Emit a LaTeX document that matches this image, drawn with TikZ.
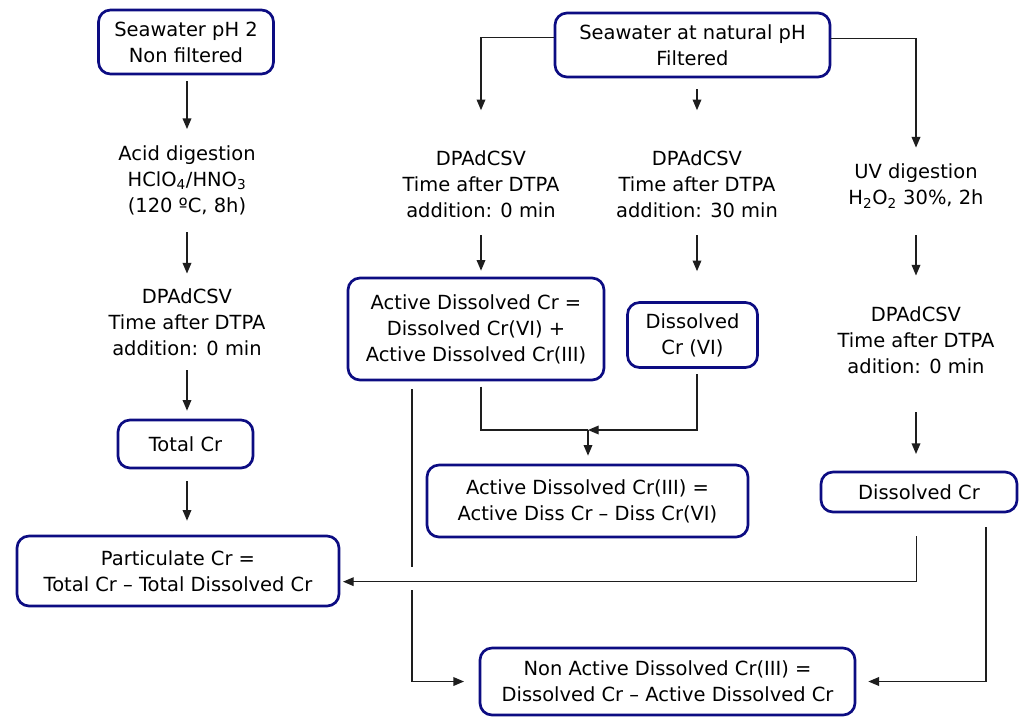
\documentclass[tikz,border=0pt]{standalone}
\usepackage{fontspec}
\setmainfont{DejaVu Sans}
\usetikzlibrary{arrows.meta,calc}
\definecolor{navy}{RGB}{12,12,130}
\definecolor{ink}{RGB}{30,30,30}
\tikzset{
  every node/.style={font=\fontsize{14.6pt}{19.5pt}\selectfont, align=center, inner sep=0pt},
  rbox/.style={draw=navy, line width=2pt, rounded corners=9pt},
  txt/.style={},
  conn/.style={draw=ink, line width=1pt},
  arr/.style={conn, -{Triangle[length=8pt,width=6.5pt]}},
}
\begin{document}
\begin{tikzpicture}[x=0.75pt,y=-0.75pt]
\useasboundingbox[fill=white] (0,0) rectangle (1024,718);

% boxes
\node[rbox, minimum width=131.25pt, minimum height=48pt] (A) at (186,42) {Seawater pH 2\\Non filtered};
\node[rbox, minimum width=206.25pt, minimum height=48pt] (B) at (692.5,45) {Seawater at natural pH\\Filtered};
\node[rbox, minimum width=101.25pt, minimum height=36pt] (TotalCr) at (185.5,444) {Total Cr};
\node[rbox, minimum width=241.5pt, minimum height=52.5pt] (Part) at (178,571) {Particulate Cr =\\Total Cr -- Total Dissolved Cr};
\node[rbox, minimum width=192pt, minimum height=76.5pt] (ActDis) at (476,329) {Active Dissolved Cr =\\Dissolved Cr(VI) +\\Active Dissolved Cr(III)};
\node[rbox, minimum width=97.5pt, minimum height=48.75pt] (DisVI) at (692.5,335) {Dissolved\\Cr (VI)};
\node[rbox, minimum width=240.75pt, minimum height=54pt] (ActIII) at (587.5,501) {Active Dissolved Cr(III) =\\Active Diss Cr -- Diss Cr(VI)};
\node[rbox, minimum width=147pt, minimum height=30pt] (DisCr) at (919,492) {Dissolved Cr};
\node[rbox, minimum width=281.25pt, minimum height=50.25pt] (NonAct) at (667.5,681.5) {Non Active Dissolved Cr(III) =\\Dissolved Cr -- Active Dissolved Cr};

% free texts
\node[txt] (acid) at (187,180) {Acid digestion\\HClO\textsubscript{4}/HNO\textsubscript{3}\\(120 ºC, 8h)};
\node[txt] (dpa1) at (187,322) {DPAdCSV\\Time after DTPA\\addition: 0 min};
\node[txt] (dpa2) at (481,184) {DPAdCSV\\Time after DTPA\\addition: 0 min};
\node[txt] (dpa3) at (697,184) {DPAdCSV\\Time after DTPA\\addition: 30 min};
\node[txt] (uv) at (916,186) {UV digestion\\H\textsubscript{2}O\textsubscript{2} 30\%, 2h};
\node[txt] (dpa4) at (916,340) {DPAdCSV\\Time after DTPA\\adition: 0 min};

% helper coordinates
\coordinate (m) at (588,430);
\coordinate (lx) at (412,0);
\coordinate (rx) at (986,0);

% left column
\draw[arr, shorten <=4.5pt, shorten >=12pt] (A.south -| acid.north) -- (acid.north);
\draw[arr, shorten <=13pt, shorten >=11pt] (acid.south) -- (dpa1.north);
\draw[arr, shorten <=11pt, shorten >=6pt] (dpa1.south) -- (dpa1.south |- TotalCr.north);
\draw[arr, shorten <=9pt, shorten >=10.5pt] (TotalCr.south -| dpa1.south) -- (dpa1.south |- Part.north);

% from B
\draw[arr, shorten >=30pt] ([yshift=5.5pt]B.west) -| (dpa2.north);
\draw[arr, shorten <=8pt, shorten >=30pt] (B.south -| dpa3.north) -- (dpa3.north);
\draw[arr, shorten >=12pt] ([yshift=5pt]B.east) -| (uv.north);

% middle
\draw[arr, shorten <=13pt, shorten >=4.5pt] (dpa2.south) -- (dpa2.south |- ActDis.north);
\draw[arr, shorten <=13pt, shorten >=22.5pt] (dpa3.south) -- (dpa3.south |- DisVI.north);
\draw[conn, shorten <=4pt] (ActDis.south -| dpa2.south) |- (m);
\draw[arr, shorten <=4pt] (DisVI.south -| dpa3.south) |- (m);
\draw[arr, shorten >=6pt] (m) -- (m |- ActIII.north);

% right column
\draw[arr, shorten <=20pt, shorten >=23pt] (uv.south) -- (dpa4.north);
\draw[arr, shorten <=29pt, shorten >=12.5pt] (dpa4.south) -- (dpa4.south |- DisCr.north);

% long connectors
\draw[arr, shorten <=6pt, shorten >=11pt] (ActDis.south -| lx) |- (NonAct.west);
\fill[white] (404,567) rectangle (420,590);
\draw[arr, shorten <=17pt, shorten >=2pt] ([xshift=-2pt]DisCr.south) |- ([yshift=-8pt]Part.east);
\draw[arr, shorten <=10.5pt, shorten >=9pt] (DisCr.south -| rx) |- (NonAct.east);
\end{tikzpicture}
\end{document}
